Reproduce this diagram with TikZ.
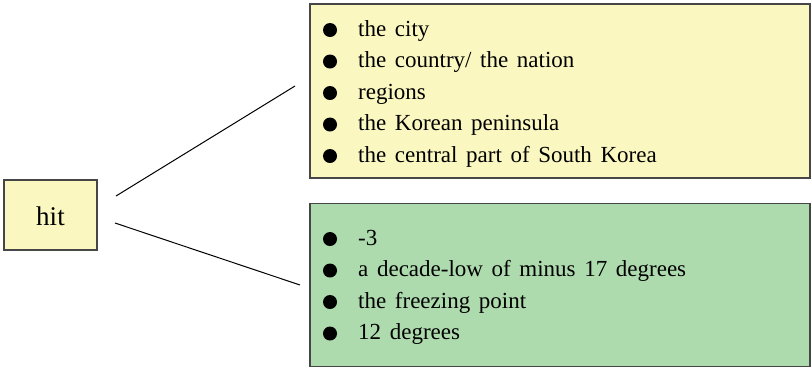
\documentclass[tikz,border=0pt]{standalone}
\usepackage{fontspec}
\setmainfont{Liberation Serif}[WordSpace=1.5]
\definecolor{boxyellow}{RGB}{250,248,192}
\definecolor{boxgreen}{RGB}{173,219,174}
\definecolor{edgegray}{RGB}{70,70,70}
\begin{document}
\begin{tikzpicture}[x=1pt,y=-1pt,
  panel/.style={draw=edgegray,line width=1.2pt,inner sep=0pt,rectangle},
  itemtext/.style={anchor=base west,inner sep=0pt,font=\fontsize{23}{27}\selectfont},
  dot/.style={circle,fill=black,inner sep=0pt,minimum size=14pt},
  link/.style={draw=black,line width=1pt}]
\useasboundingbox (0,0) rectangle (811,368);
\node[panel,fill=boxyellow,minimum width=93pt,minimum height=70pt] (hit) at (50.5,215) {};
\node[anchor=base,inner sep=0pt,font=\fontsize{27}{32}\selectfont] (hitlabel) at (50.5,225) {hit};
\node[panel,fill=boxyellow,minimum width=500pt,minimum height=174pt] (top) at (560,91) {};
\node[panel,fill=boxgreen,minimum width=500pt,minimum height=163pt] (bottom) at (560,285) {};
% top list
\node[dot] (b1) at (330,30) {};
\node[itemtext] (t1) at (358,36) {the city};
\node[dot] (b2) at (330,61.5) {};
\node[itemtext] (t2) at (358,67.5) {the country/ the nation};
\node[dot] (b3) at (330,93) {};
\node[itemtext] (t3) at (358,99) {regions};
\node[dot] (b4) at (330,124.5) {};
\node[itemtext] (t4) at (358,130.5) {the Korean peninsula};
\node[dot] (b5) at (330,156) {};
\node[itemtext] (t5) at (358,162) {the central part of South Korea};
% bottom list
\node[dot] (g1) at (330,239) {};
\node[itemtext] (u1) at (358,245) {-3};
\node[dot] (g2) at (330,270.5) {};
\node[itemtext] (u2) at (358,276.5) {a decade-low of minus 17 degrees};
\node[dot] (g3) at (330,302) {};
\node[itemtext] (u3) at (358,308) {the freezing point};
\node[dot] (g4) at (330,333.5) {};
\node[itemtext] (u4) at (358,339.5) {12 degrees};
% connectors
\coordinate (ua) at (116,196);
\coordinate (ub) at (295,86);
\coordinate (la) at (115,223);
\coordinate (lb) at (300,285);
\draw[link] (ua) -- (ub);
\draw[link] (la) -- (lb);
\end{tikzpicture}
\end{document}
